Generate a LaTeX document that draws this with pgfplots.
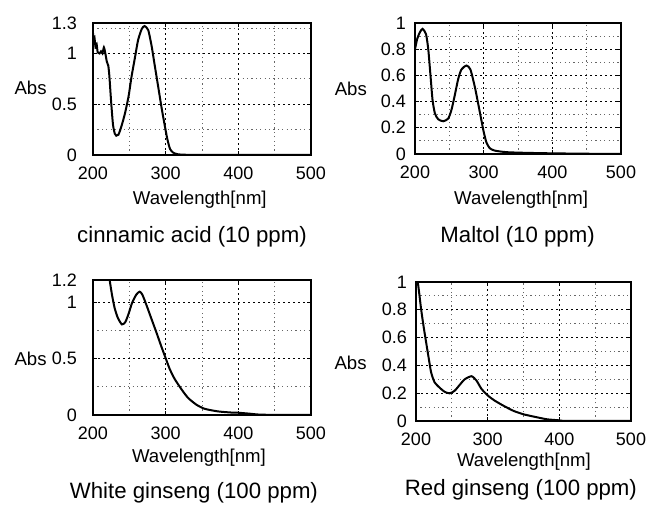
\documentclass[border=0pt]{standalone}
\usepackage{pgfplots}
\pgfplotsset{compat=1.18}
\usepackage{fontspec}
\setmainfont{Liberation Sans}

\pgfplotsset{
  spec/.style={
    scale only axis,
    clip mode=individual,
    xmin=200, xmax=500,
    xtick={200,300,400,500},
    minor xtick={250,350,450},
    ymin=0,
    grid=both,
    axis line style={line width=1pt},
    major grid style={black, line width=0.65pt, dash pattern=on 1.2pt off 1.3pt},
    minor grid style={black!60, line width=0.4pt, dash pattern=on 0.6pt off 1.6pt},
    tick align=inside,
    major tick length=2pt,
    minor tick length=0pt,
    tick style={black, line width=0.6pt},
    /pgf/number format/assume math mode=true,
    tick label style={font=\fontsize{9}{10}\selectfont},
    xticklabel style={yshift=-2.5pt},
    label style={font=\fontsize{9.3}{10}\selectfont},
    xlabel={Wavelength[nm]},
    every axis title shift=0pt,
    title style={font=\fontsize{11.1}{12}\selectfont, anchor=center},
  },
  curve/.style={black, line width=1pt, no marks, smooth, tension=0.4},
}
\tikzset{abslabel/.style={anchor=east, inner sep=0pt, font=\fontsize{9.3}{10}\selectfont}}

\begin{document}
\begin{tikzpicture}
\path[use as bounding box] (0,0) rectangle (329pt,253.5pt);

% cinnamic acid
\begin{axis}[spec, at={(46.5pt,176pt)}, width=109pt, height=66pt,
  ymax=1.3, ytick={0,0.5,1,1.3}, minor ytick={0.25,0.75,1.25},
  yticklabel style={xshift=-4.5pt},
  xlabel style={at={(axis description cs:0.49,-0.34)}, anchor=center},
  title={cinnamic acid (10 ppm)},
  title style={at={(axis description cs:0.454,-0.62)}}]
\addplot[curve] coordinates {
(200,1.2) (201,1.13) (202,1.16) (203.5,1.06) (205,1.09) (206.5,1.01) (209,1.0)
(211,1.02) (213,1.0) (215,1.06) (217,1.0) (219,0.92) (221,0.88) (222.5,0.78)
(225,0.52) (227.5,0.30) (230,0.21) (232,0.19) (235,0.20) (239,0.28) (244,0.41)
(249,0.58) (253,0.77) (258,0.97) (262,1.13) (267,1.24) (271,1.27) (276,1.23)
(280.5,1.08) (285,0.88) (290,0.66) (294.5,0.46) (299,0.28) (302.5,0.15)
(306,0.06) (310,0.025) (316,0.008) (330,0.002) (400,0.001) (500,0)
};
\node[abslabel] at (axis description cs:-0.211,0.51) {Abs};
\end{axis}

% Maltol
\begin{axis}[spec, at={(207.5pt,176.5pt)}, width=103pt, height=65.5pt,
  ymax=1, ytick={0,0.2,0.4,0.6,0.8,1}, minor ytick={0.1,0.3,0.5,0.7,0.9},
  yticklabel style={xshift=-1pt},
  xlabel style={at={(axis description cs:0.515,-0.351)}, anchor=center},
  title={Maltol (10 ppm)},
  title style={at={(axis description cs:0.498,-0.634)}}]
\addplot[curve] coordinates {
(200,0.80) (203.3,0.88) (207.2,0.93) (211,0.955) (216,0.915) (219.3,0.80)
(222.7,0.59) (225.6,0.41) (229,0.31) (233.8,0.265) (241,0.25) (248.3,0.27)
(253,0.335) (258,0.45) (262.8,0.57) (267.6,0.645) (275,0.675) (280.7,0.645)
(287,0.515) (291.8,0.39) (296.6,0.26) (300,0.17) (303.9,0.09) (308.7,0.045)
(316,0.026) (333,0.014) (360,0.009) (400,0.005) (450,0.002) (500,0)
};
\node[abslabel] at (axis description cs:-0.232,0.50) {Abs};
\end{axis}

% White ginseng
\begin{axis}[spec, at={(46.5pt,46pt)}, width=109pt, height=67.5pt,
  ymax=1.2, ytick={0,0.5,1,1.2}, minor ytick={0.25,0.75},
  yticklabel style={xshift=-4.5pt},
  xlabel style={at={(axis description cs:0.486,-0.319)}, anchor=center},
  title={White ginseng (100 ppm)},
  title style={at={(axis description cs:0.463,-0.578)}}]
\addplot[curve] coordinates {
(222.9,1.2) (226.1,1.07) (229.8,0.95) (234.4,0.86) (239.9,0.805) (244.5,0.826)
(249,0.90) (253.7,0.995) (259.6,1.07) (264.2,1.096) (267.9,1.07) (273.4,0.98)
(280.3,0.857) (287.2,0.735) (294,0.61) (300,0.505) (305.5,0.41) (312.4,0.32)
(321.6,0.23) (330.7,0.153) (342.2,0.092) (353.7,0.055) (372,0.032) (390,0.022)
(400,0.02) (415,0.012) (428,0.004) (450,0.001) (500,0)
};
\node[abslabel] at (axis description cs:-0.211,0.415) {Abs};
\end{axis}

% Red ginseng
\begin{axis}[spec, at={(208pt,43pt)}, width=107.5pt, height=69.5pt,
  ymax=1, ytick={0,0.2,0.4,0.6,0.8,1}, minor ytick={0.1,0.3,0.5,0.7,0.9},
  yticklabel style={xshift=-1pt},
  xlabel style={at={(axis description cs:0.502,-0.295)}, anchor=center},
  title={Red ginseng (100 ppm)},
  title style={at={(axis description cs:0.488,-0.496)}}]
\addplot[curve] coordinates {
(202.5,1.0) (204.7,0.91) (207,0.81) (210.3,0.69) (214,0.57) (217.8,0.45)
(221.1,0.35) (225.8,0.28) (232.9,0.24) (239.9,0.21) (247,0.199) (254,0.218)
(261,0.26) (268,0.30) (277.5,0.322) (284.5,0.29) (291.5,0.23) (301,0.18)
(310.3,0.145) (322,0.11) (336,0.073) (350.2,0.048) (366.7,0.029) (383,0.012)
(399.5,0.005) (410,0.001) (500,0)
};
\node[abslabel] at (axis description cs:-0.228,0.42) {Abs};
\end{axis}
\end{tikzpicture}
\end{document}
